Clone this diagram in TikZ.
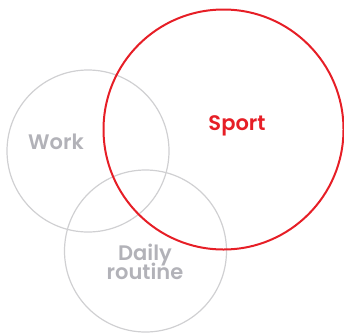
\documentclass[tikz,border=0pt]{standalone}
\usepackage{fontspec}
\setmainfont{Poppins}[BoldFont={Poppins SemiBold}]
\usepackage{tikz}
\usetikzlibrary{positioning}
\definecolor{ringgray}{RGB}{208,208,210}
\definecolor{textgray}{RGB}{178,178,184}
\definecolor{sportred}{RGB}{230,30,38}
\tikzset{%
  g/.style = {circle,draw=ringgray,line width=1.2pt,inner sep=0pt,
        minimum size=162pt},
  r/.style = {circle,draw=sportred,line width=2pt,inner sep=0pt,
        minimum size=240pt},
  lbl/.style = {font=\fontsize{21}{20}\selectfont\bfseries,text=textgray,
        align=center,inner sep=0pt,anchor=base}
}

\begin{document}
\begin{tikzpicture}[x=1pt,y=-1pt]
    \useasboundingbox (0,0) rectangle (344,332);
    \node[g] (work) at (88,151) {};
    \node[g] (daily) at (145.5,251) {};
    \node[r] (sport) at (223.5,129.5) {};
    \node[lbl] (worklbl) at (56,149) {Work};
    \node[lbl,text=sportred] (sportlbl) at (237,130) {Sport};
    \node[lbl] (dailylbl) at (145,260) {Daily};
    \node[lbl] (routinelbl) at (145,279) {routine};
\end{tikzpicture}
\end{document}
